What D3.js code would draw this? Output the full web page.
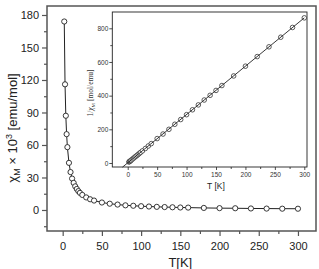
<!DOCTYPE html>
<html><head><meta charset="utf-8">
<script src="https://cdn.jsdelivr.net/npm/d3@7/dist/d3.min.js"></script>
<style>
html,body{margin:0;padding:0;background:#fff;}
svg{display:block;font-family:Arial,"Liberation Sans",sans-serif;}
</style></head>
<body><svg id="c" width="319" height="269"></svg>
<script>
// Data
const temps = [2,3,4,5,6,8,10,12,14,16,18,20,22,25,30,35,40,50,60,70,80,90,100,110,120,130,140,150,160,180,200,220,240,260,280,300];
const chiM = [174,116,87,70,58,43.5,35,29,25,21.8,19.4,17.4,15.8,13.9,11.6,9.9,8.7,6.9,5.8,5.0,4.3,3.9,3.5,3.2,2.9,2.7,2.5,2.3,2.2,1.9,1.7,1.6,1.4,1.3,1.2,1.16];
const invChi = [5.75,8.6,11.5,14.3,17.2,23,28.6,34.5,40,45.9,51.5,57.5,63.3,72,86.2,101,115,145,172,200,230,258,287,316,345,374,402,431,460,517,575,632,690,747,805,862];
const fitT = [-9, 300];
const fitInv = [-25, 862];
const mainXTicks = [0,50,100,150,200,250,300];
const mainYTicks = [0,30,60,90,120,150,180];
const insetXTicks = [0,50,100,150,200,250,300];
const insetYTicks = [0,200,400,600,800];

const svg = d3.select("#c");
const frameCol = "#555";

// ---------- main chart ----------
const x = d3.scaleLinear().domain([-20, 323]).range([47, 316]);
const y = d3.scaleLinear().domain([-19.4, 188.3]).range([231, 6]);

svg.append("rect").attr("x",47).attr("y",6).attr("width",316-47).attr("height",231-6)
  .attr("fill","none").attr("stroke",frameCol).attr("stroke-width",1.5);

const xAx = svg.append("g").attr("transform","translate(0,231)")
  .call(d3.axisBottom(x).tickValues(mainXTicks).tickSize(5).tickPadding(6).tickFormat(d3.format("d")));
const xMin = svg.append("g").attr("transform","translate(0,231)")
  .call(d3.axisBottom(x).tickValues(d3.range(25,300,50)).tickSize(3).tickFormat(""));
const yAx = svg.append("g").attr("transform","translate(47,0)")
  .call(d3.axisLeft(y).tickValues(mainYTicks).tickSize(5).tickPadding(3).tickFormat(d3.format("d")));
const yMin = svg.append("g").attr("transform","translate(47,0)")
  .call(d3.axisLeft(y).tickValues([-15,15,45,75,105,135,165]).tickSize(3).tickFormat(""));
[xAx,xMin,yAx,yMin].forEach(g=>{
  g.select(".domain").remove();
  g.selectAll("line").attr("stroke",frameCol).attr("stroke-width",1.2);
  g.selectAll("text").attr("font-size",11).attr("fill","#222").attr("font-family","Arial,'Liberation Sans',sans-serif");
});

const mainPts = temps.map((t,i)=>[t,chiM[i]]);
svg.append("path").datum(mainPts)
  .attr("d", d3.line().x(d=>x(d[0])).y(d=>y(d[1])))
  .attr("fill","none").attr("stroke","#222").attr("stroke-width",1);
svg.append("g").selectAll("circle").data(mainPts).join("circle")
  .attr("cx",d=>x(d[0])).attr("cy",d=>y(d[1])).attr("r",2.6)
  .attr("fill","#fff").attr("stroke","#222").attr("stroke-width",0.9);

svg.append("text").attr("x",(x(0)+x(300))/2).attr("y",267).attr("text-anchor","middle")
  .attr("font-size",13).attr("fill","#222").text("T[K]");

const yt = svg.append("text").attr("transform","translate(17,128) rotate(-90)")
  .attr("text-anchor","middle").attr("font-size",13).attr("fill","#222");
yt.append("tspan").text("χ");
yt.append("tspan").attr("font-size",9).attr("dy",3).text("M");
yt.append("tspan").attr("dy",-3).text(" × 10");
yt.append("tspan").attr("font-size",9).attr("dy",-5).text("3");
yt.append("tspan").attr("dy",5).text(" [emu/mol]");

// ---------- inset ----------
const ix = d3.scaleLinear().domain([-26.2, 304.6]).range([112.3, 307]);
const iy = d3.scaleLinear().domain([-23.8, 896.8]).range([167, 12]);

svg.append("rect").attr("x",112.3).attr("y",12).attr("width",307-112.3).attr("height",167-12)
  .attr("fill","#fff").attr("stroke","#222").attr("stroke-width",0.9);

const ixAx = svg.append("g").attr("transform","translate(0,167)")
  .call(d3.axisBottom(ix).tickValues(insetXTicks).tickSize(3).tickPadding(2).tickFormat(d3.format("d")));
const ixMin = svg.append("g").attr("transform","translate(0,167)")
  .call(d3.axisBottom(ix).tickValues(d3.range(25,300,50)).tickSize(2).tickFormat(""));
const iyAx = svg.append("g").attr("transform","translate(112.3,0)")
  .call(d3.axisLeft(iy).tickValues(insetYTicks).tickSize(3).tickPadding(1).tickFormat(d3.format("d")));
const iyMin = svg.append("g").attr("transform","translate(112.3,0)")
  .call(d3.axisLeft(iy).tickValues([100,300,500,700]).tickSize(2).tickFormat(""));
[ixAx,ixMin,iyAx,iyMin].forEach(g=>{
  g.select(".domain").remove();
  g.selectAll("line").attr("stroke","#222").attr("stroke-width",0.8);
  g.selectAll("text").attr("font-size",6.5).attr("fill","#333").attr("font-family","Arial,'Liberation Sans',sans-serif");
});

const insetPts = temps.map((t,i)=>[t,invChi[i]]);
svg.append("g").selectAll("circle").data(insetPts).join("circle")
  .attr("cx",d=>ix(d[0])).attr("cy",d=>iy(d[1])).attr("r",2.3)
  .attr("fill","#fff").attr("stroke","#333").attr("stroke-width",0.8);
svg.append("line")
  .attr("x1",ix(fitT[0])).attr("y1",iy(fitInv[0]))
  .attr("x2",ix(fitT[1])).attr("y2",iy(fitInv[1]))
  .attr("stroke","#222").attr("stroke-width",0.9);

svg.append("text").attr("x",(ix(0)+ix(300))/2).attr("y",189).attr("text-anchor","middle")
  .attr("font-size",8.5).attr("fill","#222").text("T [K]");

const iyt = svg.append("text").attr("transform","translate(93,93) rotate(-90)")
  .attr("text-anchor","middle").attr("font-size",7.5).attr("fill","#333")
  .attr("font-family","'Liberation Serif','DejaVu Serif',serif");
iyt.append("tspan").text("1/");
iyt.append("tspan").attr("font-style","italic").text("χ");
iyt.append("tspan").attr("font-size",5).attr("dy",2).text("M");
iyt.append("tspan").attr("dy",-2).text(" [mol/emu]");
</script></body></html>
